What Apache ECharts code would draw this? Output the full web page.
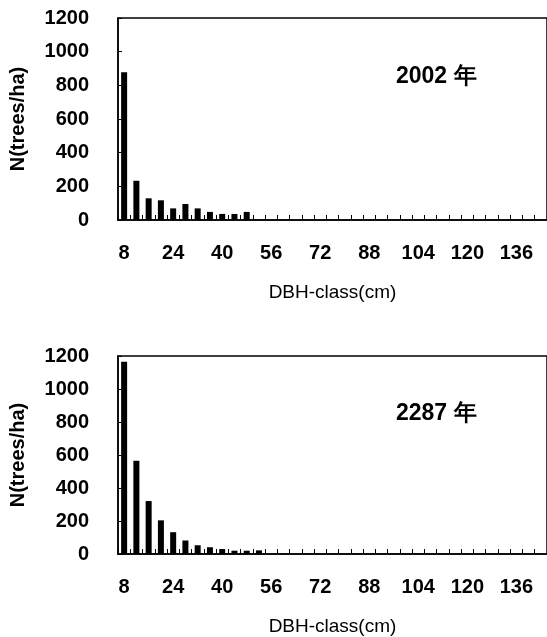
<!DOCTYPE html>
<html lang="en">
<head>
    <meta charset="UTF-8">
    <title>DBH-class</title>
    <style>
        html, body { margin: 0; padding: 0; background: #fff; }
        #main { width: 547px; height: 637px; }
    </style>
</head>
<body>
<div id="main"></div>
<script src="https://cdn.jsdelivr.net/npm/echarts@6/dist/echarts.min.js"></script>
<script>
    // DBH classes, 4 cm steps
    var dbhClass = ['8','12','16','20','24','28','32','36','40','44','48','52','56','60','64','68','72','76','80','84','88','92','96','100','104','108','112','116','120','124','128','132','136','140','144'];
    var trees2002 = [877, 233, 129, 117, 69, 95, 69, 48, 36, 36, 48];
    var trees2287 = [1165, 565, 321, 204, 132, 82, 53, 41, 30, 20, 20, 22];
    var yearLabels = ['2002 年', '2287 年'];

    var font = '"Liberation Sans", Arial, sans-serif';
    var myChart = echarts.init(document.getElementById('main'));

    function xAxisOf(idx) {
        return {
            type: 'category',
            gridIndex: idx,
            data: dbhClass,
            name: 'DBH-class(cm)',
            nameLocation: 'middle',
            nameGap: 63,
            nameTextStyle: { color: '#000', fontSize: 19, fontFamily: font },
            axisLine: { lineStyle: { color: '#000', width: 1.5 } },
            axisTick: { show: true, inside: true, length: 5, interval: 0, lineStyle: { color: '#000', width: 1 } },
            axisLabel: { interval: 3, margin: 23, color: '#000', fontSize: 20, fontWeight: 'bold', fontFamily: font },
            splitLine: { show: false }
        };
    }

    function yAxisOf(idx) {
        return {
            type: 'value',
            gridIndex: idx,
            min: 0,
            max: 1200,
            interval: 200,
            name: 'N(trees/ha)',
            nameLocation: 'middle',
            nameGap: 90,
            nameTextStyle: { color: '#000', fontSize: 20, fontWeight: 'bold', fontFamily: font },
            axisLine: { show: true, lineStyle: { color: '#000', width: 1.5 } },
            axisTick: { show: true, inside: true, length: 4, lineStyle: { color: '#000' } },
            axisLabel: {
                margin: 29, color: '#000', fontSize: 20, fontWeight: 'bold', fontFamily: font,
                formatter: function (v) { return String(v); }
            },
            splitLine: { show: false }
        };
    }

    var option = {
        animation: false,
        backgroundColor: '#fff',
        title: [
            { text: yearLabels[0], left: 391, top: 60, textStyle: { fontSize: 23, fontWeight: 'bold', color: '#000', fontFamily: font } },
            { text: yearLabels[1], left: 391, top: 397, textStyle: { fontSize: 23, fontWeight: 'bold', color: '#000', fontFamily: font } }
        ],
        grid: [
            { left: 117, right: -2, top: 18, bottom: 417, show: true, borderColor: '#000', borderWidth: 1.5, backgroundColor: 'transparent' },
            { left: 117, right: -2, top: 356, bottom: 80, show: true, borderColor: '#000', borderWidth: 1.5, backgroundColor: 'transparent' }
        ],
        xAxis: [xAxisOf(0), xAxisOf(1)],
        yAxis: [yAxisOf(0), yAxisOf(1)],
        series: [
            { type: 'bar', xAxisIndex: 0, yAxisIndex: 0, data: trees2002, barWidth: 6, itemStyle: { color: '#000' } },
            { type: 'bar', xAxisIndex: 1, yAxisIndex: 1, data: trees2287, barWidth: 6, itemStyle: { color: '#000' } }
        ]
    };
    myChart.setOption(option);
</script>
</body>
</html>
